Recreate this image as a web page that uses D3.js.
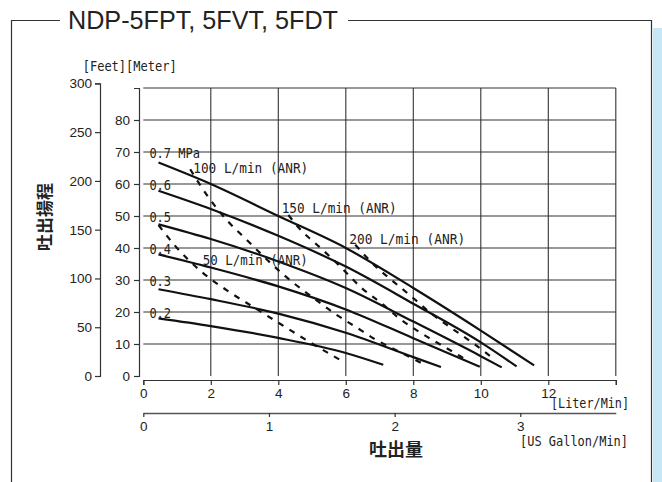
<!DOCTYPE html>
<html><head><meta charset="utf-8">
<script src="https://cdn.jsdelivr.net/npm/d3@7"></script>
<style>
html,body{margin:0;padding:0;background:#fff;}
svg{display:block;}
</style></head>
<body>
<svg id="chart" width="662" height="482"></svg>
<script>
// ---------- data ----------
const titleText = "NDP-5FPT, 5FVT, 5FDT";
const literTicks = [0, 2, 4, 6, 8, 10, 12, 14];
const gallonTicks = [0, 1, 2, 3];
const gallonMax = 3.76;
const meterTicks = [0, 10, 20, 30, 40, 50, 60, 70, 80];
const meterGrid = [10, 20, 30, 40, 50, 60, 70, 80, 90];
const feetTicks = [0, 50, 100, 150, 200, 250, 300];
const pressureNames = ["0.7 MPa", "0.6", "0.5", "0.4", "0.3", "0.2"];
const pressureLabelY = [68.1, 58.1, 48.1, 38.1, 28.1, 18.1];
const p07 = [[0.45,66.7],[2,60],[4,50],[6,40],[8,27.5],[10,14.2],[11.58,3.3]];
const p06 = [[0.45,57.9],[2,52.2],[4,43.8],[6,34.2],[8,22.6],[10,10.5],[11.06,3]];
const p05 = [[0.45,47.4],[2,42.8],[4,35.8],[6,27.5],[8,17],[10,6.2],[10.62,2.7]];
const p04 = [[0.45,38],[2,33.9],[4,28],[6,20.8],[8,11.8],[9.97,2.9]];
const p03 = [[0.45,27.1],[2,24],[4,19.5],[6,13.5],[8,5.9],[8.82,2.8]];
const p02 = [[0.45,18],[2,15.6],[4,11.9],[6,7.2],[7.11,3.5]];
const air050 = [[0.45,47.2],[0.9,41.2],[1.7,32.8],[2.5,26.6],[3.3,21.3],[4.1,16],[4.9,10.8],[5.9,4.6]];
const air100 = [[1.39,64.6],[1.88,56.6],[2.5,48.4],[3.1,42.2],[3.7,36],[4.4,29.5],[5.04,24.4],[5.7,19.3],[6.3,15.3],[6.9,11.3],[7.6,7.5],[8.3,3.7]];
const air150 = [[4.3,50.3],[4.74,44.8],[5.04,42],[5.53,37.3],[5.93,33.2],[6.47,27.5],[7.06,22.7],[7.61,17.8],[8.25,13.3],[8.94,9],[9.55,5.2]];
const air200 = [[6.28,41],[6.86,34.5],[7.41,29.5],[7.95,24.8],[8.5,19.8],[9.14,14.9],[9.78,10.2],[10.4,5.2]];
const airNames = ["50 L/min (ANR)", "100 L/min (ANR)", "150 L/min (ANR)", "200 L/min (ANR)"];
const airLabelPos = [[1.76,34.7],[1.48,63.4],[4.1,50.8],[6.1,41.25]];
const airLabelW = [105, 115, 115, 116];

// ---------- layout ----------
const svg = d3.select("#chart");
const mono = "'DejaVu Sans Mono', monospace";
const sans = "'Liberation Sans', Arial, sans-serif";
const cjk = "'Noto Sans CJK JP', sans-serif";
const ink = "#222";

const x = d3.scaleLinear().domain([0, 14]).range([143.3, 615.8]);
const y = d3.scaleLinear().domain([0, 90]).range([376, 88]);
const yFeet = d3.scaleLinear().domain([0, 300]).range([376, 376 - 300 / 3.28084 * 3.2]);
const xg = d3.scaleLinear().domain([0, gallonMax]).range([x(0), x(14)]);

// side strip and frame
svg.append("rect").attr("x", 653).attr("y", 28).attr("width", 9).attr("height", 454).attr("fill", "#c8e7f6");
svg.append("path").attr("d", "M11.5,482V20.5H60M348,20.5H651.5V482")
  .attr("fill", "none").attr("stroke", "#333").attr("stroke-width", 1.2);
svg.append("text").attr("x", 68).attr("y", 29).attr("font-family", sans).attr("font-size", 25)
  .attr("fill", ink).attr("textLength", 270).attr("lengthAdjust", "spacingAndGlyphs").text(titleText);

// grid
const grid = svg.append("g").attr("stroke", "#333").attr("stroke-width", 1.1);
grid.selectAll(".h").data(meterGrid).join("line")
  .attr("x1", x(0)).attr("x2", x(14)).attr("y1", d => y(d)).attr("y2", d => y(d));
grid.selectAll(".v").data(literTicks.filter(d => d > 0)).join("line")
  .attr("x1", d => x(d)).attr("x2", d => x(d)).attr("y1", y(90)).attr("y2", y(0));

function styleAxis(g, fs) {
  g.select(".domain").attr("stroke", "#333").attr("stroke-width", 1.2);
  g.selectAll(".tick line").attr("stroke", "#333").attr("stroke-width", 1.2);
  g.selectAll("text").attr("font-family", sans).attr("font-size", fs).attr("fill", ink);
}
// feet axis
const gFeet = svg.append("g").attr("transform", "translate(100,0)")
  .call(d3.axisLeft(yFeet).tickValues(feetTicks).tickSize(5).tickPadding(3));
styleAxis(gFeet, 13.5);
// meter axis
const gMeter = svg.append("g").attr("transform", "translate(139,0)")
  .call(d3.axisLeft(y).tickValues(meterTicks).tickSize(5).tickPadding(4));
styleAxis(gMeter, 13.5);
// liter axis
const gLiter = svg.append("g").attr("transform", "translate(0,380)")
  .call(d3.axisBottom(x).tickValues(literTicks).tickFormat(d => d === 14 ? "" : d).tickSize(5).tickPadding(3));
styleAxis(gLiter, 13.5);
// gallon axis
const gGal = svg.append("g").attr("transform", "translate(0,413)")
  .call(d3.axisBottom(xg).tickValues(gallonTicks).tickFormat(d3.format("d")).tickSize(4).tickSizeOuter(0).tickPadding(4));
styleAxis(gGal, 13.5);
gGal.select(".domain").attr("stroke", "#555").attr("stroke-width", 1.6);

// unit texts
function monoText(tx, ty, str, w, fs) {
  svg.append("text").attr("x", tx).attr("y", ty).attr("font-family", mono).attr("font-size", fs || 13.5)
    .attr("fill", ink).attr("textLength", w).attr("lengthAdjust", "spacingAndGlyphs").text(str);
}
monoText(82.7, 71, "[Feet][Meter]", 94);
monoText(551, 408, "[Liter/Min]", 78);
monoText(520, 446, "[US Gallon/Min]", 108);

// axis titles
svg.append("text").attr("x", 396).attr("y", 456).attr("text-anchor", "middle")
  .attr("font-family", cjk).attr("font-size", 18).attr("font-weight", "bold").attr("fill", ink).text("吐出量");
svg.append("text").attr("transform", "translate(51,217) rotate(-90)").attr("text-anchor", "middle")
  .attr("font-family", cjk).attr("font-size", 17).attr("font-weight", "bold").attr("fill", ink).text("吐出揚程");

// curves
const line = d3.line().x(d => x(d[0])).y(d => y(d[1])).curve(d3.curveMonotoneX);
const solid = [p07, p06, p05, p04, p03, p02];
svg.append("g").selectAll("path").data(solid).join("path")
  .attr("d", line).attr("fill", "none").attr("stroke", "#111").attr("stroke-width", 2.2);
const dashed = [air050, air100, air150, air200];
svg.append("g").selectAll("path").data(dashed).join("path")
  .attr("d", line).attr("fill", "none").attr("stroke", "#111").attr("stroke-width", 2.2)
  .attr("stroke-dasharray", "6,7");

// labels
pressureNames.forEach((n, i) => {
  monoText(x(0.18), y(pressureLabelY[i]), n, n.length * 7.24, 14.5);
});
airNames.forEach((n, i) => {
  monoText(x(airLabelPos[i][0]), y(airLabelPos[i][1]), n, airLabelW[i], 14.5);
});
</script>
</body></html>
